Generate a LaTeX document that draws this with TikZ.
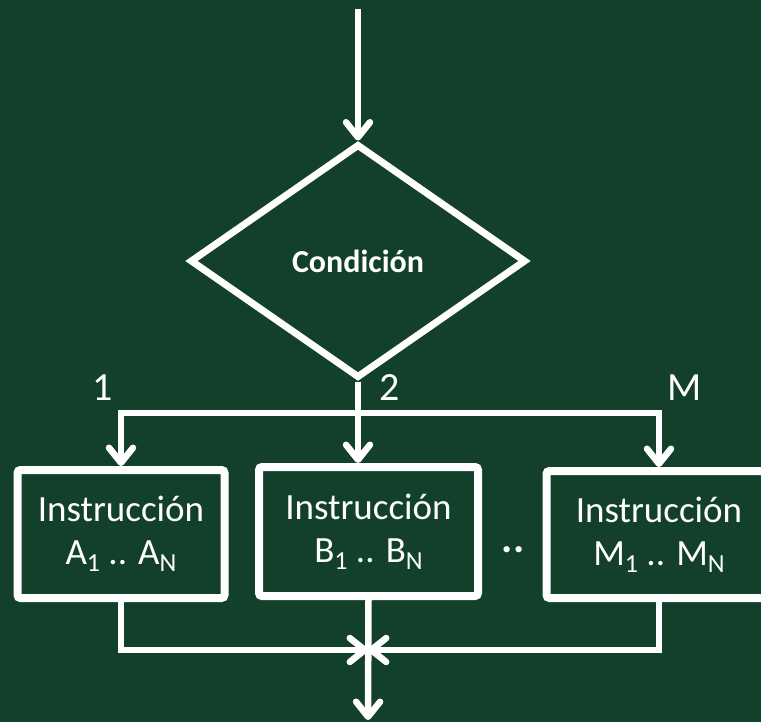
\documentclass[tikz,border=0pt]{standalone}
\usepackage{fontspec}
\setmainfont{Carlito}
\usetikzlibrary{shapes.geometric,arrows.meta,positioning,calc}
\definecolor{boardcol}{HTML}{12402B}
\newcommand{\lowidx}[1]{\raisebox{-7pt}{\fontsize{26}{26}\selectfont #1}}

\begin{document}
\begin{tikzpicture}[x=1pt,y=-1pt,>={Straight Barb[length=15pt,width=24pt,round]},
  flow/.style={draw=white,line width=6.5pt},
  instbox/.style={draw=white,line width=8pt,rounded corners=3pt,align=center,text=white,
    inner sep=0pt,font=\fontsize{37}{43}\selectfont},
  decision/.style={diamond,draw=white,line width=7pt,inner sep=0pt,text=white,
    minimum width=336pt,minimum height=234pt,font=\fontsize{32}{38}\selectfont\bfseries},
  branch/.style={text=white,inner sep=0pt,font=\fontsize{40}{44}\selectfont}]
\fill[boardcol] (0,0) rectangle (761,722);
\useasboundingbox (0,0) rectangle (761,722);
\node[decision] (cond) at (358,261) {Condición};
\node[instbox,minimum width=207pt,minimum height=128pt] (instA) at (121,534)
  {Instrucción\\A\lowidx{1} .. A\lowidx{N}};
\node[instbox,minimum width=219pt,minimum height=129pt] (instB) at (368.5,531.5)
  {Instrucción\\B\lowidx{1} .. B\lowidx{N}};
\node[instbox,minimum width=225pt,minimum height=127pt] (instM) at (659,534.5)
  {Instrucción\\M\lowidx{1} .. M\lowidx{N}};
\node[branch,font=\fontsize{42}{42}\selectfont\bfseries] (dots) at (513,550) {..};
\node[branch] (lab1) at (103,388) {1};
\node[branch] (lab2) at (390,388) {2};
\node[branch] (labM) at (685,388) {M};
\coordinate (entry) at (358,9);
\coordinate (fork) at (358,413);
\coordinate (join) at (368,650);
\coordinate (exit) at (368,720);
% entrada y reparto
\draw[flow,->] (entry) -- (cond.north);
\draw[flow] (cond.south) -- (fork);
\draw[flow,->] (fork) -| (instA.north);
\draw[flow,->] (fork) -| (instM.north);
\draw[flow,->] (fork) -- (fork |- instB.north);
% salida
\draw[flow,->] (instA.south) |- (join);
\draw[flow,->] (instM.south) |- (join);
\draw[flow,->] (instB.south) -- (exit);
\end{tikzpicture}
\end{document}
